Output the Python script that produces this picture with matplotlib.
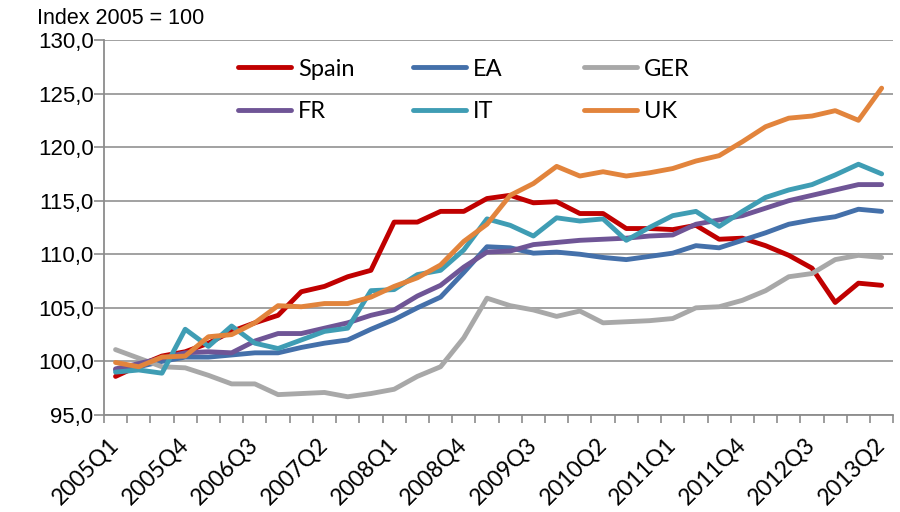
import matplotlib
matplotlib.use("Agg")
import matplotlib.pyplot as plt
from matplotlib.ticker import FixedLocator, FuncFormatter
from matplotlib.transforms import ScaledTranslation

# quarterly house price index, 2005 = 100
quarters = [f"{y}Q{q}" for y in range(2005, 2014) for q in range(1, 5)][:34]

spain = [98.6, 99.6, 100.5, 100.9, 101.7, 102.8, 103.6, 104.3, 106.5, 107.0,
         107.9, 108.5, 113.0, 113.0, 114.0, 114.0, 115.2, 115.5, 114.8, 114.9,
         113.8, 113.8, 112.4, 112.4, 112.3, 112.7, 111.4, 111.5, 110.8, 109.9,
         108.7, 105.5, 107.3, 107.1]
ea = [99.2, 99.5, 100.0, 100.4, 100.4, 100.6, 100.8, 100.8, 101.3, 101.7,
      102.0, 103.0, 103.9, 105.0, 106.0, 108.3, 110.7, 110.6, 110.1, 110.2,
      110.0, 109.7, 109.5, 109.8, 110.1, 110.8, 110.6, 111.3, 112.0, 112.8,
      113.2, 113.5, 114.2, 114.0]
ger = [101.1, 100.3, 99.5, 99.4, 98.7, 97.9, 97.9, 96.9, 97.0, 97.1,
       96.7, 97.0, 97.4, 98.6, 99.5, 102.2, 105.9, 105.2, 104.8, 104.2,
       104.7, 103.6, 103.7, 103.8, 104.0, 105.0, 105.1, 105.7, 106.6, 107.9,
       108.2, 109.5, 109.9, 109.7]
fr = [99.3, 99.8, 100.3, 100.8, 100.9, 100.8, 101.9, 102.6, 102.6, 103.1,
      103.6, 104.3, 104.8, 106.1, 107.1, 108.8, 110.2, 110.3, 110.9, 111.1,
      111.3, 111.4, 111.5, 111.7, 111.8, 112.8, 113.2, 113.6, 114.3, 115.0,
      115.5, 116.0, 116.5, 116.5]
it = [99.0, 99.2, 98.9, 103.0, 101.4, 103.3, 101.7, 101.2, 102.0, 102.8,
      103.1, 106.6, 106.7, 108.1, 108.5, 110.4, 113.3, 112.7, 111.7, 113.4,
      113.1, 113.3, 111.3, 112.5, 113.6, 114.0, 112.6, 114.0, 115.3, 116.0,
      116.5, 117.4, 118.4, 117.5]
uk = [99.9, 99.5, 100.4, 100.5, 102.3, 102.5, 103.6, 105.2, 105.1, 105.4,
      105.4, 106.0, 107.0, 107.8, 109.0, 111.2, 112.8, 115.5, 116.6, 118.2,
      117.3, 117.7, 117.3, 117.6, 118.0, 118.7, 119.2, 120.5, 121.9, 122.7,
      122.9, 123.4, 122.5, 125.5]

series = [
    ("Spain", spain, "#C00000"),
    ("EA", ea, "#4470AA"),
    ("GER", ger, "#A8A8A8"),
    ("FR", fr, "#6F5596"),
    ("IT", it, "#3F9DB4"),
    ("UK", uk, "#E2843C"),
]

fig = plt.figure(figsize=(9, 5.12), dpi=100)
ax = fig.add_axes([0.1155, 0.1895, 0.877, 0.7325])

x = list(range(len(quarters)))
handles = {}
for name, vals, col in series:
    ln, = ax.plot(x, vals, color=col, lw=3.5, solid_joinstyle="round",
                  solid_capstyle="round", label=name)
    handles[name] = ln

ax.set_xlim(-0.5, len(quarters) - 0.5)
ax.set_ylim(95, 130)
ax.set_yticks([95, 100, 105, 110, 115, 120, 125, 130])
ax.yaxis.set_major_formatter(FuncFormatter(lambda v, p: f"{v:.1f}".replace(".", ",")))
ax.grid(axis="y", color="#9A9A9A", lw=1.3)
ax.set_axisbelow(True)

ax.xaxis.set_major_locator(FixedLocator(x[::3]))
ax.set_xticklabels(quarters[::3], rotation=45, ha="right", va="center",
                   rotation_mode="anchor", fontsize=16.5, family="Lato")
shift = ScaledTranslation(-6 / 100, 0, fig.dpi_scale_trans)
for lab in ax.get_xticklabels():
    lab.set_transform(lab.get_transform() + shift)
ax.xaxis.set_minor_locator(FixedLocator([i - 0.5 for i in range(len(quarters) + 1)]))
ax.tick_params(axis="x", which="major", length=0, pad=19)
ax.tick_params(axis="x", which="minor", length=6, color="#8C8C8C", width=1.2)
ax.tick_params(axis="y", length=7, color="#8C8C8C", width=1.2, labelsize=16, pad=0.5)
for lab in ax.get_yticklabels():
    lab.set_family("Liberation Sans")

for s in ["top", "right"]:
    ax.spines[s].set_visible(False)
for s in ["left", "bottom"]:
    ax.spines[s].set_color("#8C8C8C")
    ax.spines[s].set_linewidth(1.3)

fig.text(0.041, 0.963, "Index 2005 = 100", fontsize=15.5, family="Liberation Sans",
         va="center", ha="left")

# legend laid out in three fixed-width columns, like the original
cols = [("Spain", "FR"), ("EA", "IT"), ("GER", "UK")]
col_x = [0.17, 0.3915, 0.608]
for k, (a, b) in enumerate(cols):
    leg = ax.legend([handles[a], handles[b]], [a, b], loc="upper left",
                    bbox_to_anchor=(col_x[k], 0.95), frameon=False,
                    prop={"family": "Lato", "size": 17}, handlelength=2.25,
                    handletextpad=0.3, labelspacing=0.9, borderpad=0,
                    borderaxespad=0)
    if k < 2:
        ax.add_artist(leg)

fig.savefig("out.png", dpi=100)
